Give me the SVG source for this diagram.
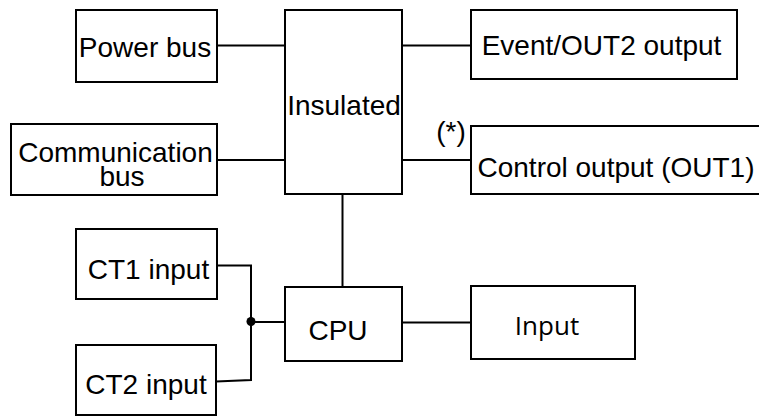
<svg xmlns="http://www.w3.org/2000/svg" width="759" height="416" viewBox="0 0 759 416">
<style>
.box{fill:#fff;stroke:#000;stroke-width:2}
.t{font-family:"Liberation Sans",Arial,sans-serif;font-size:28px;fill:#000;text-anchor:middle}
.t2{font-family:"Open Sans","Noto Sans",sans-serif;font-size:26px;fill:#000;text-anchor:middle}
.c{fill:none;stroke:#000;stroke-width:2}
</style>
<rect width="759" height="416" fill="#fff"/>
<g id="connectors">
<line class="c" x1="217" y1="45.5" x2="285" y2="45.5"/>
<line class="c" x1="217" y1="160" x2="285" y2="160"/>
<line class="c" x1="402" y1="45.5" x2="471" y2="45.5"/>
<line class="c" x1="402" y1="160" x2="471" y2="160"/>
<line class="c" x1="342.5" y1="194" x2="342.5" y2="287"/>
<line class="c" x1="402" y1="322.5" x2="471" y2="322.5"/>
<polyline class="c" points="217,265.5 251,265.5 251,380 216,381.5"/>
<line class="c" x1="251" y1="322" x2="285" y2="322"/>
<circle cx="251" cy="321.5" r="4.5" fill="#000"/>
</g>
<g id="power-bus"><rect class="box" x="76" y="10" width="141" height="72"/><text class="t" x="145" y="56.5">Power bus</text></g>
<g id="insulated"><rect class="box" x="285" y="10" width="117" height="184"/><text class="t" x="344" y="114.5">Insulated</text></g>
<g id="communication-bus"><rect class="box" x="11" y="124" width="206" height="71"/><text class="t" x="115.5" y="161.5">Communication</text><text class="t" x="122" y="186">bus</text></g>
<g id="event-out2"><rect class="box" x="471" y="10" width="266" height="69"/><text class="t" x="601.5" y="55">Event/OUT2 output</text></g>
<g id="control-output"><rect class="box" x="471" y="126" width="295" height="68"/><text class="t" x="451" y="141">(*)</text><text class="t" x="616" y="176.5">Control output (OUT1)</text></g>
<g id="cpu"><rect class="box" x="285" y="287" width="117" height="74"/><text class="t" x="338" y="340">CPU</text></g>
<g id="input"><rect class="box" x="471" y="286" width="164" height="73"/><text class="t2" x="547" y="335">Input</text></g>
<g id="ct1-input"><rect class="box" x="76" y="229" width="141" height="70"/><text class="t" x="148.5" y="279">CT1 input</text></g>
<g id="ct2-input"><rect class="box" x="76" y="345" width="140" height="70"/><text class="t" x="146" y="393.5">CT2 input</text></g>
</svg>
